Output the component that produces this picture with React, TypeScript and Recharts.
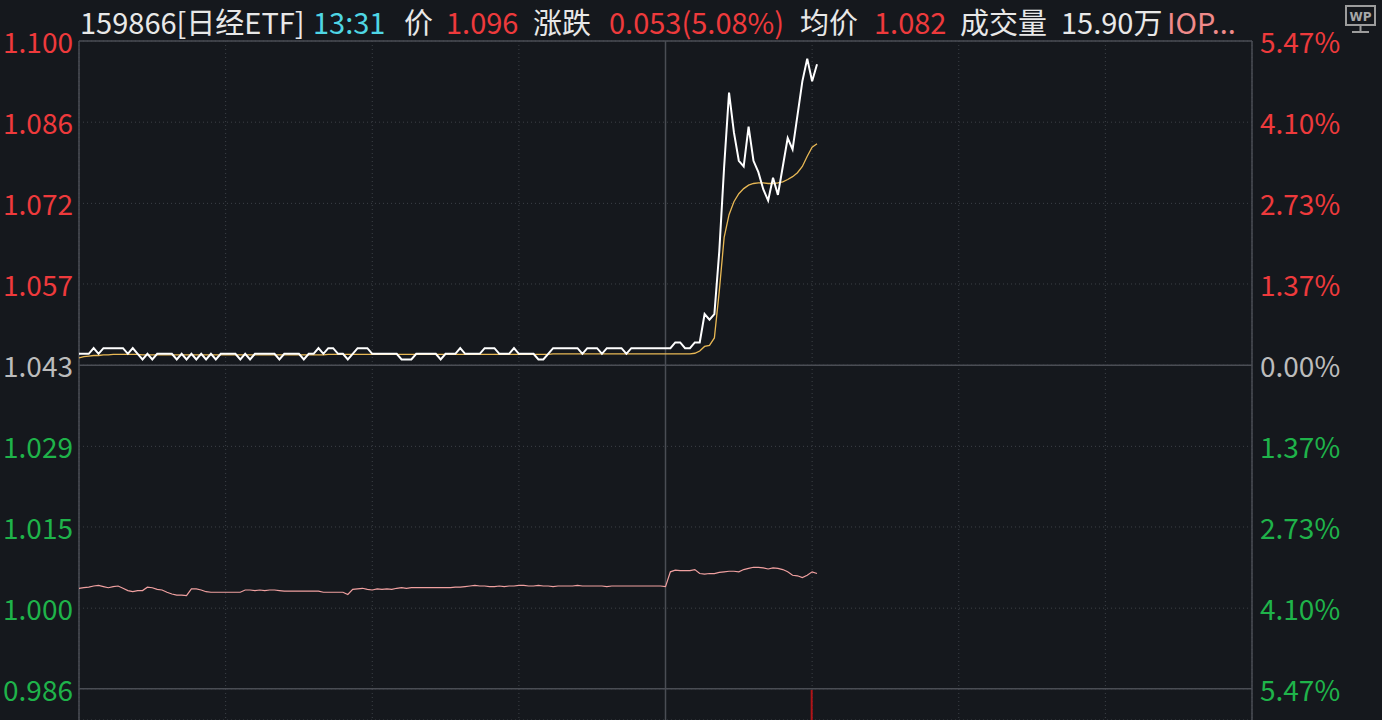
import React from 'react';
import { ComposedChart, Line, Bar, XAxis, YAxis, CartesianGrid, ReferenceLine } from 'recharts';

// minute index 0 = 9:30, 120 = 11:30 / 13:00, 240 = 15:00
const prevClose = 1.043;

const price = [
  1.045, 1.045, 1.045, 1.046, 1.045, 1.046, 1.046, 1.046, 1.046, 1.046,
  1.045, 1.046, 1.045, 1.044, 1.045, 1.044, 1.045, 1.045, 1.045, 1.045,
  1.044, 1.045, 1.044, 1.045, 1.044, 1.045, 1.044, 1.045, 1.044, 1.045,
  1.045, 1.045, 1.045, 1.044, 1.045, 1.044, 1.045, 1.045, 1.045, 1.045,
  1.045, 1.044, 1.045, 1.045, 1.045, 1.045, 1.044, 1.045, 1.045, 1.046,
  1.045, 1.046, 1.046, 1.045, 1.045, 1.044, 1.045, 1.046, 1.046, 1.046,
  1.045, 1.045, 1.045, 1.045, 1.045, 1.045, 1.044, 1.044, 1.044, 1.045,
  1.045, 1.045, 1.045, 1.045, 1.044, 1.045, 1.045, 1.045, 1.046, 1.045,
  1.045, 1.045, 1.045, 1.046, 1.046, 1.046, 1.045, 1.045, 1.045, 1.046,
  1.045, 1.045, 1.045, 1.045, 1.044, 1.044, 1.045, 1.046, 1.046, 1.046,
  1.046, 1.046, 1.046, 1.045, 1.046, 1.046, 1.046, 1.045, 1.046, 1.046,
  1.046, 1.046, 1.045, 1.046, 1.046, 1.046, 1.046, 1.046, 1.046, 1.046,
  1.046, 1.046, 1.047, 1.047, 1.046, 1.046, 1.047, 1.047, 1.052, 1.051,
  1.052, 1.063, 1.078, 1.091, 1.084, 1.079, 1.078, 1.085, 1.079, 1.077,
  1.074, 1.072, 1.076, 1.073, 1.078, 1.083, 1.081, 1.087, 1.093, 1.097,
  1.093, 1.096,
];

const avgPrice = [
  1.0443, 1.0445, 1.0446, 1.0447, 1.0447, 1.0448, 1.0448, 1.0449, 1.0449, 1.0449,
  1.0449, 1.0449, 1.0449, 1.0448, 1.0448, 1.0448, 1.0448, 1.0448, 1.0448, 1.0448,
  1.0448, 1.0448, 1.0448, 1.0448, 1.0448, 1.0448, 1.0448, 1.0448, 1.0448, 1.0448,
  1.0448, 1.0448, 1.0448, 1.0448, 1.0448, 1.0448, 1.0448, 1.0448, 1.0448, 1.0448,
  1.0448, 1.0448, 1.0448, 1.0448, 1.0448, 1.0448, 1.0448, 1.0448, 1.0448, 1.0448,
  1.0448, 1.0449, 1.0449, 1.0449, 1.0449, 1.0449, 1.0449, 1.0449, 1.0449, 1.0449,
  1.0449, 1.0449, 1.0449, 1.0449, 1.0449, 1.0449, 1.0449, 1.0449, 1.0449, 1.0449,
  1.0449, 1.0449, 1.0449, 1.0449, 1.0449, 1.0449, 1.0449, 1.0449, 1.0449, 1.0449,
  1.0449, 1.0449, 1.0449, 1.0449, 1.0449, 1.0449, 1.0449, 1.0449, 1.0449, 1.0449,
  1.0449, 1.0449, 1.0449, 1.0449, 1.0449, 1.0449, 1.0449, 1.0450, 1.0450, 1.0450,
  1.0450, 1.0450, 1.0450, 1.0450, 1.0450, 1.0450, 1.0450, 1.0450, 1.0450, 1.0450,
  1.0450, 1.0450, 1.0450, 1.0450, 1.0450, 1.0450, 1.0450, 1.0450, 1.0450, 1.0450,
  1.0450, 1.0450, 1.0450, 1.0450, 1.0450, 1.0450, 1.0451, 1.0455, 1.0463, 1.0465,
  1.0478, 1.0560, 1.0655, 1.0695, 1.0718, 1.0732, 1.0741, 1.0747, 1.0750, 1.0751,
  1.0751, 1.0750, 1.0750, 1.0751, 1.0753, 1.0757, 1.0762, 1.0769, 1.0780, 1.0798,
  1.0814, 1.0820,
];

const iopv = [
  1.0037, 1.0038, 1.0039, 1.0041, 1.0042, 1.0040, 1.0038, 1.0040, 1.0041, 1.0037,
  1.0033, 1.0031, 1.0033, 1.0033, 1.0039, 1.0038, 1.0035, 1.0034, 1.0030, 1.0027,
  1.0025, 1.0025, 1.0024, 1.0036, 1.0036, 1.0034, 1.0031, 1.0030, 1.0030, 1.0030,
  1.0030, 1.0030, 1.0030, 1.0030, 1.0034, 1.0034, 1.0033, 1.0034, 1.0033, 1.0034,
  1.0034, 1.0033, 1.0032, 1.0032, 1.0032, 1.0032, 1.0032, 1.0032, 1.0032, 1.0032,
  1.0030, 1.0030, 1.0030, 1.0030, 1.0030, 1.0026, 1.0035, 1.0036, 1.0037, 1.0035,
  1.0034, 1.0036, 1.0035, 1.0036, 1.0035, 1.0037, 1.0038, 1.0037, 1.0038, 1.0038,
  1.0038, 1.0038, 1.0038, 1.0038, 1.0038, 1.0038, 1.0038, 1.0039, 1.0039, 1.0040,
  1.0041, 1.0042, 1.0041, 1.0041, 1.0040, 1.0040, 1.0041, 1.0040, 1.0041, 1.0041,
  1.0042, 1.0042, 1.0041, 1.0041, 1.0042, 1.0041, 1.0041, 1.0040, 1.0041, 1.0041,
  1.0041, 1.0041, 1.0042, 1.0041, 1.0041, 1.0041, 1.0041, 1.0041, 1.0040, 1.0041,
  1.0041, 1.0041, 1.0041, 1.0041, 1.0041, 1.0041, 1.0041, 1.0041, 1.0041, 1.0041,
  1.0040, 1.0066, 1.0069, 1.0068, 1.0068, 1.0068, 1.0070, 1.0063, 1.0062, 1.0063,
  1.0063, 1.0065, 1.0066, 1.0067, 1.0067, 1.0066, 1.0070, 1.0072, 1.0074, 1.0074,
  1.0073, 1.0071, 1.0073, 1.0072, 1.0070, 1.0066, 1.0060, 1.0059, 1.0056, 1.0060,
  1.0066, 1.0063,
];

// the only volume bar tall enough to reach into view
const volumeBars = [{ minute: 150, vol: 3160 }];

const priceTicks = [1.1001, 1.0858, 1.0715, 1.0573, 1.043, 1.0287, 1.0145, 1.0002, 0.986];
const priceLabels = ['1.100', '1.086', '1.072', '1.057', '1.043', '1.029', '1.015', '1.000', '0.986'];
const pctLabels = ['5.47%', '4.10%', '2.73%', '1.37%', '0.00%', '1.37%', '2.73%', '4.10%', '5.47%'];
const timeTicks = [0, 30, 60, 90, 120, 150, 180, 210, 240];

const header = [
  { text: '159866[日经ETF]', color: '#e8e8e8', x: 80 },
  { text: '13:31', color: '#4fd6e4', x: 313 },
  { text: '价', color: '#e8e8e8', x: 404 },
  { text: '1.096', color: '#ee3a3c', x: 446 },
  { text: '涨跌', color: '#e8e8e8', x: 533 },
  { text: '0.053(5.08%)', color: '#ee3a3c', x: 609 },
  { text: '均价', color: '#e8e8e8', x: 800 },
  { text: '1.082', color: '#ee3a3c', x: 874 },
  { text: '成交量', color: '#e8e8e8', x: 960 },
  { text: '15.90万', color: '#e8e8e8', x: 1061 },
  { text: 'IOP...', color: '#f08a8a', x: 1167 },
];

const BG = '#15181d';
const GRID = '#3d4047';
const BORDER = '#4a4d54';
const RED = '#ee3a3c';
const GREEN = '#1fb34a';
const GREY = '#bcbcbc';
const FONT = '"Noto Sans CJK SC", "Noto Sans", sans-serif';

const rows = price.map((p, i) => ({
  minute: i,
  price: p,
  avg: avgPrice[i],
  iopv: iopv[i],
  vol: volumeBars.find((v) => v.minute === i)?.vol,
}));

const tickColor = (v: number) => (Math.abs(v - prevClose) < 1e-6 ? GREY : v > prevClose ? RED : GREEN);

const LeftTick = (props: any) => {
  const { x, y, payload } = props;
  const idx = priceTicks.indexOf(payload.value);
  return (
    <text x={x} y={y} textAnchor="end" dominantBaseline="central" fill={tickColor(payload.value)}
      style={{ fontFamily: FONT, fontSize: 28 }}>
      {priceLabels[idx]}
    </text>
  );
};

const RightTick = (props: any) => {
  const { x, y, payload } = props;
  const idx = priceTicks.indexOf(payload.value);
  return (
    <text x={x} y={y} textAnchor="start" dominantBaseline="central" fill={tickColor(payload.value)}
      style={{ fontFamily: FONT, fontSize: 28 }}>
      {pctLabels[idx]}
    </text>
  );
};

// time ticks exist only to place the vertical grid lines
const NoTick = () => <g />;

const App: React.FC = () => {
  return (
    <div style={{ position: 'absolute', left: 0, top: 0, width: 1382, height: 720, background: BG, overflow: 'hidden' }}>
      <div style={{ position: 'absolute', left: 0, top: 0 }}>
        <ComposedChart width={1382} height={720} data={rows} margin={{ top: 41, right: 0, bottom: 0, left: 0 }}>
          <XAxis dataKey="minute" type="number" domain={[0, 240]} ticks={timeTicks} interval={0} height={0}
            axisLine={false} tickLine={false} tick={<NoTick />} />
          <YAxis yAxisId="p" orientation="left" width={79} domain={[0.9805, 1.1001]} ticks={priceTicks}
            interval={0} axisLine={false} tickLine={false} tickSize={4} tickMargin={2} tick={<LeftTick />} />
          <YAxis yAxisId="pct" orientation="right" width={130} domain={[0.9805, 1.1001]} ticks={priceTicks}
            interval={0} axisLine={false} tickLine={false} tickSize={6} tickMargin={2} tick={<RightTick />} />
          <YAxis yAxisId="vol" hide domain={[0, (max: number) => max * 22.6]} />
          <CartesianGrid yAxisId="p" stroke={GRID} strokeDasharray="1 3" />
          <ReferenceLine yAxisId="p" y={1.1001} stroke={BORDER} strokeWidth={1.5} />
          <ReferenceLine yAxisId="p" y={prevClose} stroke={BORDER} strokeWidth={1.5} />
          <ReferenceLine yAxisId="p" y={0.986} stroke={BORDER} strokeWidth={1.5} />
          <ReferenceLine yAxisId="p" x={0} stroke={BORDER} strokeWidth={1.5} />
          <ReferenceLine yAxisId="p" x={120} stroke={BORDER} strokeWidth={1.5} />
          <ReferenceLine yAxisId="p" x={240} stroke={BORDER} strokeWidth={1.5} />
          <Bar yAxisId="vol" dataKey="vol" fill="#b01418" barSize={2} isAnimationActive={false} />
          <Line yAxisId="pct" type="linear" dataKey="price" stroke="none" strokeWidth={0} dot={false} activeDot={false} legendType="none" isAnimationActive={false} />
          <Line yAxisId="p" type="linear" dataKey="iopv" stroke="#f0a0a0" strokeWidth={1.2} dot={false} isAnimationActive={false} />
          <Line yAxisId="p" type="linear" dataKey="avg" stroke="#e8b855" strokeWidth={1.3} dot={false} isAnimationActive={false} />
          <Line yAxisId="p" type="linear" dataKey="price" stroke="#ffffff" strokeWidth={2} dot={false} isAnimationActive={false} />
        </ComposedChart>
      </div>
      {header.map((h) => (
        <span key={h.x} style={{ position: 'absolute', left: h.x, top: 0, color: h.color, fontFamily: FONT, fontSize: 29, lineHeight: '42px', whiteSpace: 'nowrap' }}>
          {h.text}
        </span>
      ))}
      <svg width={40} height={40} style={{ position: 'absolute', left: 1340, top: 2 }}>
        <rect x={6} y={4} width={29} height={19} fill="none" stroke="#9c9c9c" strokeWidth={2} />
        <text x={20.5} y={18.5} textAnchor="middle" fill="#a8a8a8" style={{ fontFamily: 'DejaVu Sans', fontSize: 12, fontWeight: 700 }}>WP</text>
        <line x1={20.5} y1={23} x2={20.5} y2={29} stroke="#9c9c9c" strokeWidth={2} />
        <line x1={12} y1={30} x2={29} y2={30} stroke="#9c9c9c" strokeWidth={2} />
      </svg>
    </div>
  );
};

export default App;
